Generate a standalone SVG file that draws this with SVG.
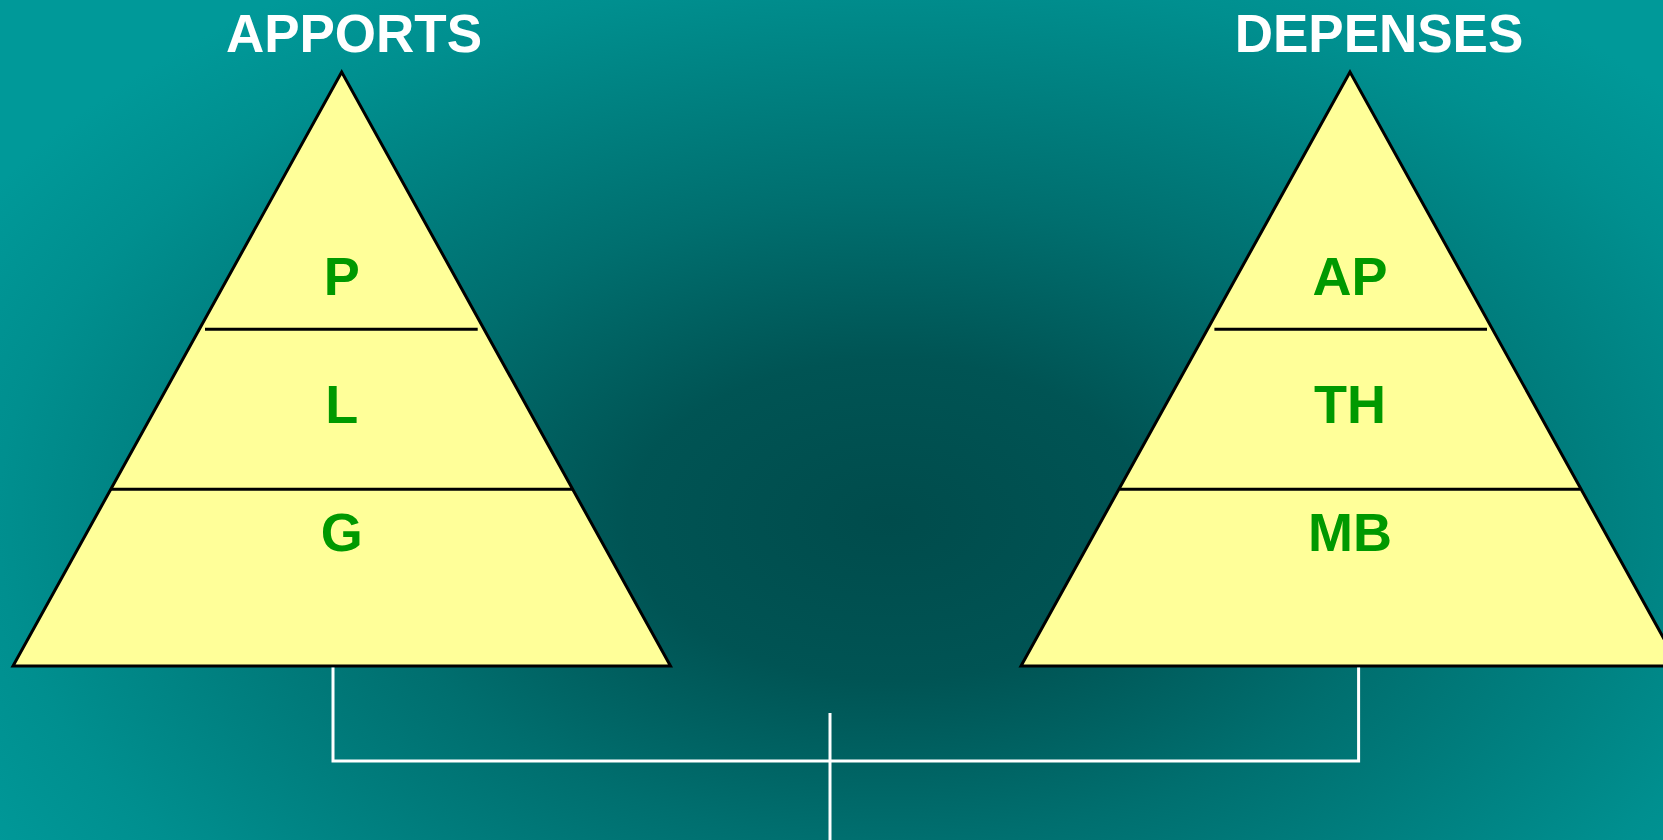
<svg xmlns="http://www.w3.org/2000/svg" width="1663" height="840" viewBox="0 0 1663 840">
  <defs>
    <radialGradient id="bg" gradientUnits="userSpaceOnUse" cx="0" cy="0" r="1" gradientTransform="translate(890,520) scale(1050,640)">
      <stop offset="0" stop-color="#004c4c"/>
      <stop offset="0.25" stop-color="#005454"/>
      <stop offset="0.5" stop-color="#006f6f"/>
      <stop offset="0.85" stop-color="#008f8f"/>
      <stop offset="1" stop-color="#009999"/>
    </radialGradient>
  </defs>
  <style>
    .tri { fill: #FFFF99; stroke: #000; stroke-width: 3; stroke-linejoin: miter; }
    .div { stroke: #000; stroke-width: 3; }
    .title { font-family: "Liberation Sans", Arial, sans-serif; font-weight: bold; font-size: 53px; fill: #fff; text-anchor: middle; }
    .lbl { font-family: "Liberation Sans", Arial, sans-serif; font-weight: bold; font-size: 54px; fill: #009900; text-anchor: middle; }
    .conn { stroke: #fff; stroke-width: 3; fill: none; }
  </style>
  <rect x="0" y="0" width="1663" height="840" fill="url(#bg)"/>

  <g id="apports">
    <text class="title" x="354" y="51.5">APPORTS</text>
    <polygon class="tri" points="341.7,72 13,666 670.5,666"/>
    <line class="div" x1="205" y1="329.3" x2="477.7" y2="329.3"/>
    <line class="div" x1="111" y1="489.3" x2="572.5" y2="489.3"/>
    <text class="lbl" x="341.7" y="295">P</text>
    <text class="lbl" x="341.7" y="423">L</text>
    <text class="lbl" x="341.7" y="551">G</text>
  </g>

  <g id="depenses">
    <text class="title" x="1379" y="51.5">DEPENSES</text>
    <polygon class="tri" points="1350,72 1021,666 1679,666"/>
    <line class="div" x1="1214.4" y1="329.3" x2="1487" y2="329.3"/>
    <line class="div" x1="1120" y1="489.3" x2="1580" y2="489.3"/>
    <text class="lbl" x="1350" y="295">AP</text>
    <text class="lbl" x="1350" y="423">TH</text>
    <text class="lbl" x="1350" y="551">MB</text>
  </g>

  <g id="connectors">
    <path class="conn" d="M333,667.5 V761 H1358.6 V667.5"/>
    <path class="conn" d="M830,713 V840"/>
  </g>
</svg>
